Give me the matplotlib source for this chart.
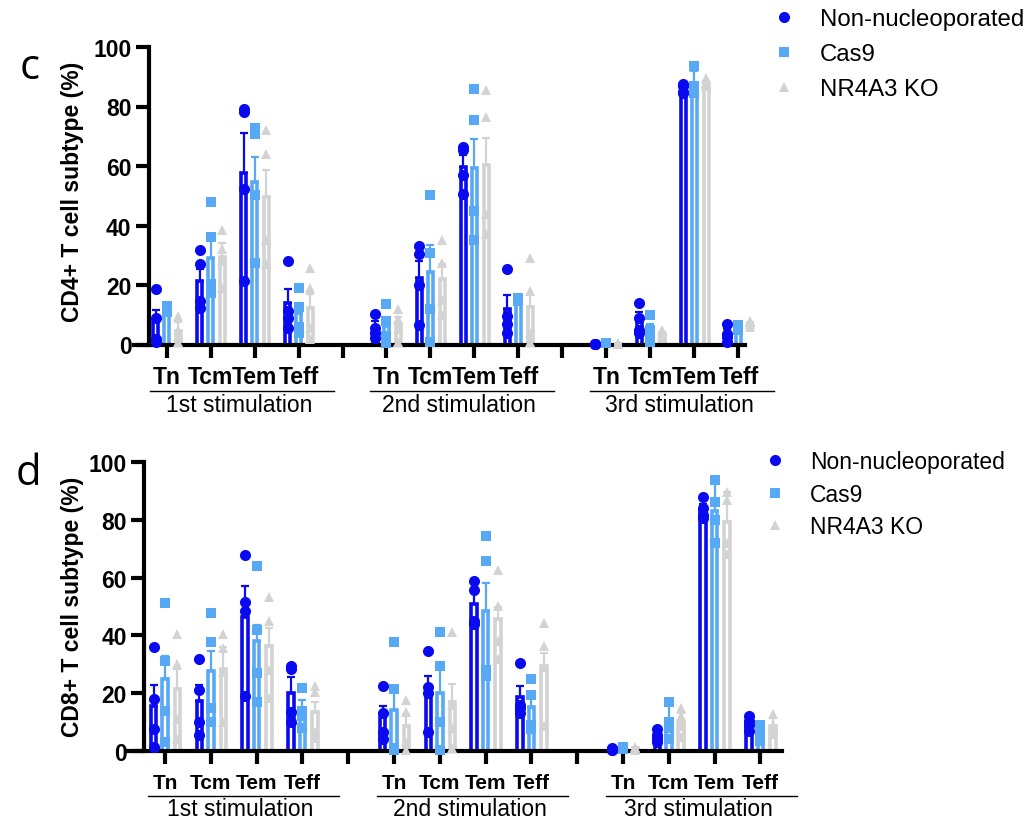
import matplotlib
matplotlib.use('Agg')
import matplotlib.pyplot as plt
from matplotlib.lines import Line2D
import numpy as np

plt.rcParams['font.family'] = ['Liberation Sans', 'DejaVu Sans']

categories = ['Tn', 'Tcm', 'Tem', 'Teff']
stimulations = ['1st stimulation', '2nd stimulation', '3rd stimulation']
series = ['Non-nucleoporated', 'Cas9', 'NR4A3 KO']

# ---- Panel c: CD4+ (12 values = 3 stimulations x 4 subtypes) ----
cd4_mean_non = [8.5, 21.3, 57.5, 13.8, 5.5, 22.2, 59.8, 11.8, 0.3, 8.5, 86.5, 3.8]
cd4_mean_cas9 = [12.6, 29.0, 54.5, 10.5, 6.2, 24.4, 59.2, 15.0, 0.5, 5.0, 87.6, 5.8]
cd4_mean_ko = [4.6, 29.5, 49.6, 12.4, 6.8, 21.9, 60.5, 12.5, 0.3, 3.5, 87.6, 7.2]
cd4_err_non = [3.0, 4.0, 13.7, 5.0, 2.5, 6.0, 4.0, 5.0, 0.2, 2.5, 1.0, 1.5]
cd4_err_cas9 = [0.5, 6.5, 8.5, 3.0, 3.0, 9.0, 10.0, 0.5, 0.3, 2.0, 4.5, 0.5]
cd4_err_ko = [2.8, 4.5, 9.0, 4.5, 2.5, 5.0, 9.0, 4.5, 0.3, 0.8, 1.0, 0.5]
cd4_pts_non = [[18.8, 9, 2, 0.7], [31.9, 26.9, 14.6, 12.2], [79.3, 78.2, 52.3, 21.5], [28, 11.3, 9, 5.7],
               [10.1, 5.7, 4, 2.3], [33, 30.5, 20, 6.5], [66.5, 65.5, 57, 50.5], [25.5, 9.5, 7, 4],
               [0.3, 0.3, 0.2, 0.2], [14, 9, 5, 4], [87.5, 87, 85, 84.5], [7, 3.5, 2.5, 1]]
cd4_pts_cas9 = [[13, 12.5, 12.5, 11], [47.8, 36.3, 20.2, 17.4], [72.8, 70.9, 50.3, 27.4], [19, 12.5, 6, 4],
                [13.5, 8, 3, 0.5], [50.3, 30.8, 11.8, 0.7], [86, 75.5, 45, 35], [15.5, 15, 14.5, 14.5],
                [0.6, 0.5, 0.4, 0.4], [10, 5, 2.5, 1], [93.5, 87, 85, 84.5], [6.5, 6, 5.5, 5]]
cd4_pts_ko = [[9.5, 5, 3, 1], [38.5, 32, 28, 19], [72, 64, 35, 27], [25.8, 19, 5.7, 1.8],
              [11.8, 8.5, 5.1, 0.7], [35, 27.5, 15, 10], [85.5, 76.5, 44, 37], [29, 18, 4, 1],
              [0.5, 0.3, 0.2, 0.2], [5, 3.5, 3, 2.5], [89.5, 88, 87.5, 87], [8, 7.5, 7, 6]]

# ---- Panel d: CD8+ ----
cd8_mean_non = [15.7, 17.2, 46.5, 20.0, 11.6, 21.5, 50.9, 18.6, 0.8, 5.1, 83.5, 9.7]
cd8_mean_cas9 = [24.9, 27.6, 38.0, 14.8, 14.2, 20.0, 48.6, 15.3, 1.2, 9.7, 82.9, 5.7]
cd8_mean_ko = [21.5, 28.4, 36.2, 13.4, 8.8, 16.8, 45.7, 29.5, 1.0, 10.1, 79.1, 8.8]
cd8_err_non = [7.0, 5.5, 10.5, 5.5, 4.0, 4.5, 4.0, 3.8, 0.3, 1.0, 2.0, 1.5]
cd8_err_cas9 = [8.0, 7.0, 5.5, 3.0, 7.0, 9.0, 9.5, 3.5, 0.5, 7.0, 11.0, 1.5]
cd8_err_ko = [7.0, 7.5, 6.5, 3.5, 4.0, 6.5, 4.0, 4.5, 0.5, 3.0, 10.5, 2.5]
cd8_pts_non = [[36.1, 18, 7.6, 1.3], [31.8, 21, 10, 5.5], [67.8, 51.4, 48.6, 19.1], [29.5, 28.5, 13.5, 10],
               [22.4, 13, 6.7, 4], [34.7, 22, 20, 6.5], [58.9, 55.8, 45, 44], [30.4, 16, 15, 13],
               [1.0, 0.8, 0.5, 0.3], [7.6, 5.5, 4.5, 3], [88, 84, 81.5, 80.5], [12, 10.5, 9, 7]]
cd8_pts_cas9 = [[51.2, 31, 14, 3], [47.6, 37.6, 15, 10], [64, 42, 27, 17], [21.7, 14, 12, 8],
                [37.8, 21.5, 1, 0.3], [41.3, 29.3, 10, 0.3], [74.5, 65.9, 28, 26.1], [25, 19.5, 9, 7.5],
                [1.5, 1.2, 1.0, 0.8], [17.1, 10, 8, 4], [93.8, 86, 80, 72], [9, 5.5, 4.5, 3.5]]
cd8_pts_ko = [[40.5, 30, 11, 4], [40.5, 35.5, 27.5, 10], [53.4, 45, 28, 18.5], [22.5, 20.5, 6.5, 4.5],
              [17.8, 13.4, 3, 0.5], [41.3, 16, 8, 1], [62.7, 50.3, 38, 31.8], [44.3, 36.4, 29, 8.5],
              [1.5, 1.0, 0.8, 0.5], [15, 12, 8.5, 5], [89.5, 87, 72, 68], [12.8, 9, 7.5, 6]]

colors = ['#0A0AF0', '#58A9F5', '#D3D3D3']
markers = ['o', 's', '^']
msizes = [8, 7, 7]

fig = plt.figure(figsize=(10.31, 8.2), dpi=100)
W, H = 1031, 820


def draw_panel(ax, means, errs, pts, xlim, spine_x, tick_fs, lab_y):
    offsets = [-0.25, 0.0, 0.27]
    for s in range(3):
        xs = []
        for g in range(3):
            for k in range(4):
                xs.append(g * 5 + k + offsets[s])
        xs = np.array(xs)
        m = np.array(means[s])
        e = np.array(errs[s])
        ax.bar(xs, m, width=0.12, facecolor='white', edgecolor=colors[s], linewidth=2.6, zorder=2)
        ax.errorbar(xs, m, yerr=[np.zeros_like(e), e], fmt='none', ecolor=colors[s],
                    elinewidth=1.6, capsize=3, capthick=1.6, zorder=3, clip_on=False)
        for i, p in enumerate(pts[s]):
            ax.plot([xs[i]] * len(p), p, linestyle='none', marker=markers[s], markersize=msizes[s],
                    color=colors[s], markeredgewidth=0, zorder=4, clip_on=False)
    ax.set_xlim(*xlim)
    ax.set_ylim(0, 100)
    ax.spines['left'].set_position(('data', spine_x))
    ax.set_yticks([0, 20, 40, 60, 80, 100])
    ax.set_yticklabels(['0', '20', '40', '60', '80', '100'], fontsize=16.5, fontweight='bold')
    ax.set_xticks(range(14))
    ax.set_xticklabels([])
    ax.tick_params(axis='both', length=9.5, width=3, direction='out')
    ax.tick_params(axis='y', pad=3)
    for sp in ['top', 'right']:
        ax.spines[sp].set_visible(False)
    for sp in ['left', 'bottom']:
        ax.spines[sp].set_linewidth(3)
    ax.spines['left'].set_capstyle('projecting')
    tr = ax.get_xaxis_transform()
    for g in range(3):
        for k in range(4):
            ax.text(g * 5 + k, lab_y[0], categories[k], transform=tr, ha='center', va='center',
                    fontsize=tick_fs, fontweight='bold')
        ax.plot([g * 5 - 0.37, g * 5 + 3.8], [lab_y[1], lab_y[1]], transform=tr, color='black',
                linewidth=1.0, clip_on=False)
        ax.text(g * 5 + 1.65, lab_y[2], stimulations[g], transform=tr, ha='center', va='center',
                fontsize=16.5)


# top axes: x-line 134..745, y 48..345.5 (pixels)
ax1 = fig.add_axes([134 / W, 1 - 345.5 / H, (745 - 134) / W, (345.5 - 48) / H])
draw_panel(ax1, [cd4_mean_non, cd4_mean_cas9, cd4_mean_ko],
           [cd4_err_non, cd4_err_cas9, cd4_err_ko],
           [cd4_pts_non, cd4_pts_cas9, cd4_pts_ko],
           (-0.74, 13.15), -0.40, 16.5, (-0.108, -0.155, -0.202))

# bottom axes: x-line 128..782, y 463..752
ax2 = fig.add_axes([128 / W, 1 - 752 / H, (782 - 128) / W, (752 - 463) / H])
draw_panel(ax2, [cd8_mean_non, cd8_mean_cas9, cd8_mean_ko],
           [cd8_err_non, cd8_err_cas9, cd8_err_ko],
           [cd8_pts_non, cd8_pts_cas9, cd8_pts_ko],
           (-0.81, 13.47), -0.46, 15, (-0.110, -0.155, -0.198))

fig.text(72 / W, 1 - 192 / H, 'CD4+ T cell subtype (%)', rotation=90, ha='center', va='center',
         fontsize=16.5, fontweight='bold')
fig.text(72 / W, 1 - 607 / H, 'CD8+ T cell subtype (%)', rotation=90, ha='center', va='center',
         fontsize=16.5, fontweight='bold')

handles = [Line2D([], [], linestyle='none', marker=markers[i], color=colors[i],
                  markersize=[8, 7, 7][i], markeredgewidth=0) for i in range(3)]
fig.legend(handles, series, loc='upper left', bbox_to_anchor=(772 / W, 1 - 9 / H),
           frameon=False, fontsize=17.3, handlelength=1.0, handletextpad=1.0,
           labelspacing=0.55, borderpad=0, borderaxespad=0)
fig.legend(handles, series, loc='upper left', bbox_to_anchor=(764 / W, 1 - 451 / H),
           frameon=False, fontsize=16.5, handlelength=1.0, handletextpad=1.0,
           labelspacing=0.42, borderpad=0, borderaxespad=0)

fig.text(30 / W, 1 - 68 / H, 'c', fontsize=30, family='Open Sans', ha='center', va='center')
fig.text(28 / W, 1 - 474 / H, 'd', fontsize=30, family='Open Sans', ha='center', va='center')

fig.savefig('out.png', dpi=100, facecolor='white')
